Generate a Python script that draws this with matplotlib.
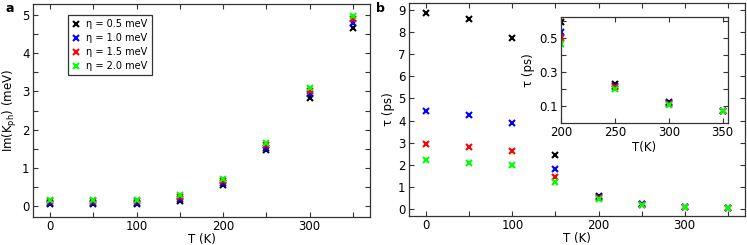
import matplotlib
matplotlib.use("Agg")
import matplotlib.pyplot as plt
import numpy as np

plt.rcParams['font.family'] = ['DejaVu Sans']

T = [0, 50, 100, 150, 200, 250, 300, 350]
labels = ["η = 0.5 meV", "η = 1.0 meV", "η = 1.5 meV", "η = 2.0 meV"]
colors = ["#000000", "#0000ff", "#ff0000", "#00ff00"]

imK = [
    [0.04, 0.04, 0.04, 0.12, 0.55, 1.45, 2.84, 4.68],
    [0.07, 0.07, 0.07, 0.17, 0.60, 1.52, 2.93, 4.81],
    [0.11, 0.11, 0.11, 0.22, 0.65, 1.58, 3.01, 4.90],
    [0.15, 0.15, 0.16, 0.27, 0.70, 1.64, 3.09, 4.98],
]

tau = [
    [8.83, 8.58, 7.72, 2.43, 0.595, 0.23, 0.122, 0.072],
    [4.42, 4.25, 3.91, 1.82, 0.537, 0.22, 0.115, 0.070],
    [2.95, 2.83, 2.62, 1.47, 0.504, 0.21, 0.110, 0.069],
    [2.21, 2.10, 1.98, 1.21, 0.468, 0.20, 0.107, 0.068],
]

inset_T = [200, 250, 300, 350]

W, H = 747, 245
fig = plt.figure(figsize=(W / 100, H / 100), dpi=100)

def rect(l, t, r, b):
    return [l / W, (H - b) / H, (r - l) / W, (b - t) / H]

spine_col = "#333333"
fs = 8.5

def style(ax):
    for s in ax.spines.values():
        s.set_color(spine_col)
        s.set_linewidth(0.9)
    ax.tick_params(direction='in', top=True, right=True, length=3.5, width=0.8,
                   colors=spine_col, labelcolor='black', labelsize=fs, pad=2.5)

mk = dict(marker='x', linestyle='none', markersize=4.5, markeredgewidth=1.5)

# Panel a
axa = fig.add_axes(rect(33, 4, 370, 217))
for vals, c, lab in zip(imK, colors, labels):
    axa.plot(T, vals, color=c, label=lab, **mk)
axa.set_xlim(-20, 370)
axa.set_ylim(-0.3, 5.3)
axa.set_xticks(range(0, 351, 50))
axa.set_xticklabels([str(v) if v % 100 == 0 else "" for v in range(0, 351, 50)])
yt = np.arange(0, 5.01, 0.5)
axa.set_yticks(yt)
axa.set_yticklabels([str(int(v)) if v == int(v) else "" for v in yt])
style(axa)
axa.set_xlabel("T (K)", fontsize=fs, labelpad=0)
axa.set_ylabel("Im(K$_{\\rm ph}$) (meV)", fontsize=fs, labelpad=2)
leg = axa.legend(loc='upper left', bbox_to_anchor=(0.104, 0.948), fontsize=7,
                 frameon=True, fancybox=False, edgecolor='black', handlelength=0.8,
                 handletextpad=0.6, borderpad=0.45, labelspacing=0.4, markerscale=0.9,
                 borderaxespad=0)
leg.get_frame().set_linewidth(0.9)
fig.text(5 / W, 1 - 9 / H, "a", fontsize=9, fontweight='bold', va='center', ha='left')

# Panel b
axb = fig.add_axes(rect(409, 3, 745, 216))
for vals, c, lab in zip(tau, colors, labels):
    axb.plot(T, vals, color=c, label=lab, **mk)
axb.set_xlim(-20, 370)
axb.set_ylim(-0.3, 9.3)
axb.set_xticks(range(0, 351, 50))
axb.set_xticklabels([str(v) if v % 100 == 0 else "" for v in range(0, 351, 50)])
axb.set_yticks(range(0, 10))
style(axb)
axb.set_xlabel("T (K)", fontsize=fs, labelpad=0)
axb.set_ylabel("τ (ps)", fontsize=fs, labelpad=2)
fig.text(376 / W, 1 - 9 / H, "b", fontsize=9, fontweight='bold', va='center', ha='left')

# Inset
axi = fig.add_axes(rect(561, 17, 728, 123))
for vals, c in zip(tau, colors):
    axi.plot(inset_T, vals[4:], color=c, clip_on=True, **mk)
axi.set_xlim(200, 355)
axi.set_ylim(0.0, 0.625)
axi.set_xticks([200, 250, 300, 350])
axi.set_yticks([0.1, 0.2, 0.3, 0.4, 0.5, 0.6])
axi.set_yticklabels(["0.1", "", "0.3", "", "0.5", ""])
style(axi)
axi.set_xlabel("T(K)", fontsize=fs, labelpad=1)
axi.set_ylabel("τ (ps)", fontsize=fs, labelpad=3)

fig.savefig("out.png", dpi=100)
